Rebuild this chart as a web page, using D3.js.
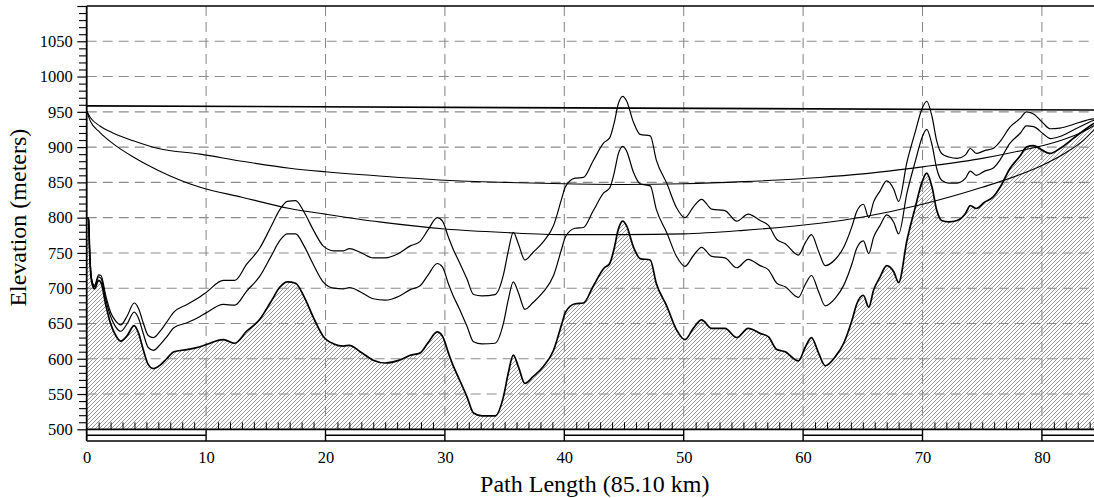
<!DOCTYPE html>
<html><head><meta charset="utf-8">
<script src="https://cdn.jsdelivr.net/npm/d3@7"></script>
<style>html,body{margin:0;padding:0;background:#fff;} svg{display:block;}
svg text{font-family:'Liberation Serif','Times New Roman',serif;}</style>
</head><body><svg id="chart" width="1094" height="498"></svg>
<script>
// ---- data ----
const distanceKm = [0,0.15,0.25,0.35,0.5,0.65,1.0,1.2,1.6,2.0,
 2.4,2.85,3.4,3.97,4.35,4.75,5.15,5.6,6.15,6.7,
 7.3,8.4,9.5,10.0,11.45,12.4,13.4,14.5,15.4,16.2,
 16.8,17.5,18.2,19.0,19.8,20.7,21.5,22.0,22.9,24.0,
 25.0,26.2,27.1,27.9,28.6,29.35,29.8,30.3,30.7,31.15,
 31.85,32.4,33.1,34.2,34.9,35.3,35.73,36.15,36.7,37.4,
 38.25,39.1,39.8,40.1,40.9,41.6,42.4,43.3,43.8,44.2,
 44.5,44.9,45.2,45.8,46.35,47.2,47.7,48.6,49.4,50.1,
 50.8,51.5,52.35,53.45,54.45,55.4,56.4,57.1,57.8,58.5,
 59.6,60.2,60.7,61.3,61.85,62.7,63.4,64.1,64.5,65.05,
 65.5,65.9,66.45,67.0,67.6,68.0,68.7,69.4,69.95,70.35,
 70.8,71.2,71.6,72.2,72.9,73.6,74.0,74.5,75.2,75.9,
 76.5,77.3,78.2,78.7,79.3,80.1,80.7,81.5,82.6,83.7,
 84.4,85.1];
const terrainElev = [800,798,750,718,703,699,711,708,676,650,
 634,625,633,647,636,612,592,586,591,600,
 610,613,617,620,627,622,639,656,680,702,
 709,707,688,658,632,621,618,619,610,598,
 594,598,605,608,623,638,632,608,590,573,
 546,523,519,519,546,579,605,589,565,575,
 589,612,650,666,678,679,702,728,735,758,
 782,795,789,758,742,740,707,674,641,627,
 643,655,643,643,630,643,636,631,613,610,
 597,617,630,608,590,603,622,655,678,690,
 673,697,716,732,723,708,768,815,850,863,
 843,810,796,794,796,806,817,813,822,829,
 843,869,888,900,902,895,891,898,912,926,
 934,938];
const profileMidElev = [800,799,751,720,706,702,716,714,684,660,
 646,639,650,666,657,635,616,612,620,631,
 644,651,660,665,677,676,696,717,744,768,
 777,777,760,733,709,700,699,701,695,685,
 683,689,698,703,719,735,730,706,689,673,
 646,624,621,622,650,683,709,694,670,680,
 695,718,757,773,785,786,809,835,842,865,
 889,901,895,864,848,845,812,778,745,731,
 746,758,745,743,729,741,732,726,707,702,
 687,706,718,695,675,686,704,735,757,767,
 749,772,789,804,793,777,835,880,913,925,
 903,869,853,849,849,856,866,860,866,870,
 882,905,920,930,929,919,912,915,924,933,
 938,938];
const profileTopElev = [800,799,752,721,707,704,719,718,689,666,
 654,648,661,679,671,650,633,630,639,652,
 666,677,688,694,711,711,734,757,786,812,
 823,824,808,782,760,753,753,756,751,743,
 743,750,760,766,783,800,795,772,755,739,
 713,691,689,691,719,752,779,763,740,751,
 766,789,828,844,856,857,880,906,913,936,
 960,972,966,935,918,916,882,848,814,800,
 815,826,812,810,795,805,796,789,769,763,
 747,765,776,752,732,741,758,788,809,819,
 800,822,838,852,840,823,879,922,954,965,
 943,908,891,886,884,889,898,891,895,898,
 908,928,941,950,947,934,926,927,932,938,
 940,938];
const upperArcKm   = [0,0.3,1.1,2.2,3.9,6,9.5,13,17,20,24.5,30,35,40,45,50,55,61.4,65,70,75,78.5,80.5,82.5,83.8,84.6,85.1];
const upperArcElev = [951,942,930,920,909,898,890,880,870,865,859,853,850,848,847,848,851,857,862,872,884,896,904,915,925,933,938];
const lowerArcKm   = [0,0.3,1.1,2.2,3.9,6,9.5,13,17,20,24.5,30,35,40,45,50,55,61.4,65,70,75,78,80,82,83.5,84.5,85.1];
const lowerArcElev = [951,937,921,905,886,867,843,829,813,805,794,784,779,776,776,777,782,792,801,819,843,860,874,892,910,927,938];
const losKm   = [0, 85.1];
const losElev = [958.5, 952.5];
const xTickValues = [0,10,20,30,40,50,60,70,80];
const yTickValues = [500,550,600,650,700,750,800,850,900,950,1000,1050];
const xTitle = "Path Length (85.10 km)";
const yTitle = "Elevation (meters)";

// ---- drawing ----
const W = 1094, H = 498;
const svg = d3.select("#chart");
const pLeft = 86.7, pTop = 6, pBottom = 429.3, stripBottom = 441;
const x = d3.scaleLinear().domain([0, 85.1]).range([pLeft, 1102.8]);
const y = d3.scaleLinear().domain([500, 1100]).range([pBottom, pTop]);
const FONT = "'Liberation Serif','Times New Roman',serif";

const defs = svg.append("defs");
const pat = defs.append("pattern").attr("id","hatch").attr("patternUnits","userSpaceOnUse")
  .attr("width",4).attr("height",4);
pat.append("path").attr("d","M-1,1 L1,-1 M0,4 L4,0 M3,5 L5,3")
  .attr("stroke","#808080").attr("stroke-width",0.8).attr("fill","none");
defs.append("clipPath").attr("id","plotclip").append("rect")
  .attr("x",pLeft).attr("y",pTop).attr("width",W-pLeft).attr("height",pBottom-pTop);

const pts = (xs, ys) => xs.map((d,i)=>[d, ys[i]]);
const terrainPts = pts(distanceKm, terrainElev);

const plot = svg.append("g").attr("clip-path","url(#plotclip)");

// hatched terrain
plot.append("path").datum(terrainPts)
  .attr("d", d3.area().x(d=>x(d[0])).y0(y(500)).y1(d=>y(d[1])).curve(d3.curveMonotoneX))
  .attr("fill","url(#hatch)");

// grid
const grid = plot.append("g").attr("stroke","#8c8c8c").attr("stroke-width",1.1).attr("stroke-dasharray","10,6");
grid.selectAll("line.h").data(yTickValues.filter(v=>v>500)).join("line")
  .attr("x1",pLeft).attr("x2",W).attr("y1",d=>y(d)).attr("y2",d=>y(d));
grid.selectAll("line.v").data(xTickValues.filter(v=>v>0)).join("line")
  .attr("x1",d=>x(d)).attr("x2",d=>x(d)).attr("y1",pTop).attr("y2",pBottom);

const line = d3.line().x(d=>x(d[0])).y(d=>y(d[1])).curve(d3.curveMonotoneX);
plot.append("path").datum(pts(upperArcKm, upperArcElev)).attr("d",line)
  .attr("fill","none").attr("stroke","#000").attr("stroke-width",1.1);
plot.append("path").datum(pts(lowerArcKm, lowerArcElev)).attr("d",line)
  .attr("fill","none").attr("stroke","#000").attr("stroke-width",1.1);
plot.append("path").datum(pts(distanceKm, profileTopElev)).attr("d",line)
  .attr("fill","none").attr("stroke","#000").attr("stroke-width",1.2);
plot.append("path").datum(pts(distanceKm, profileMidElev)).attr("d",line)
  .attr("fill","none").attr("stroke","#000").attr("stroke-width",1.2);
plot.append("path").datum(terrainPts).attr("d",line)
  .attr("fill","none").attr("stroke","#000").attr("stroke-width",1.7);
plot.append("path").datum(pts(losKm, losElev)).attr("d",d3.line().x(d=>x(d[0])).y(d=>y(d[1])))
  .attr("fill","none").attr("stroke","#000").attr("stroke-width",1.6);

// bottom minor ticks (inside, upward)
const minorX = d3.range(1, 86).filter(d=>d%10!==0);
const bAx = svg.append("g").attr("transform",`translate(0,${pBottom})`)
  .call(d3.axisTop(x).tickValues(minorX).tickSize(7).tickFormat(""));
bAx.select(".domain").remove();
bAx.selectAll("line").attr("stroke","#000").attr("stroke-width",1);

// bottom scale strip
const strip = svg.append("g").attr("stroke","#000").attr("fill","none");
strip.append("line").attr("x1",pLeft).attr("x2",W).attr("y1",pBottom).attr("y2",pBottom).attr("stroke-width",1.8);
strip.append("line").attr("x1",pLeft).attr("x2",W).attr("y1",stripBottom).attr("y2",stripBottom).attr("stroke-width",1.5);
strip.selectAll("line.mid").data(xTickValues.filter(v=>v%20===0)).join("line")
  .attr("x1",d=>x(d)).attr("x2",d=>x(Math.min(d+10,85.1))).attr("y1",435.2).attr("y2",435.2).attr("stroke-width",1.4);
strip.selectAll("line.div").data(xTickValues.filter(v=>v>0)).join("line")
  .attr("x1",d=>x(d)).attr("x2",d=>x(d)).attr("y1",pBottom).attr("y2",stripBottom).attr("stroke-width",1.4);

// x labels
const xAx = svg.append("g").attr("transform",`translate(0,${stripBottom})`)
  .call(d3.axisBottom(x).tickValues(xTickValues).tickSize(0).tickPadding(10.5).tickFormat(d3.format("d")));
xAx.attr("font-family", FONT).attr("font-size", 16.5);
xAx.select(".domain").remove();
xAx.selectAll("text").style("font-family",FONT).style("font-size","16.5px").attr("fill","#000");

// y axis: minor and major ticks
const yMinor = d3.range(510, 1100, 10).filter(v=>v%50!==0);
const yAxMinor = svg.append("g").attr("transform",`translate(${pLeft},0)`)
  .call(d3.axisLeft(y).tickValues(yMinor).tickSize(7.7).tickFormat(""));
yAxMinor.select(".domain").remove();
yAxMinor.selectAll("line").attr("stroke","#000").attr("stroke-width",1.1);
const yAx = svg.append("g").attr("transform",`translate(${pLeft},0)`)
  .call(d3.axisLeft(y).tickValues(yTickValues.concat([1100])).tickSize(9.4).tickPadding(4.6)
  .tickFormat(d => d === 1100 ? "" : d));
yAx.attr("font-family", FONT).attr("font-size", 16.5);
yAx.select(".domain").remove();
yAx.selectAll("line").attr("stroke","#000").attr("stroke-width",1.2);
yAx.selectAll("text").style("font-family",FONT).style("font-size","16.5px").attr("fill","#000");

// frame
svg.append("line").attr("x1",pLeft).attr("x2",pLeft).attr("y1",pTop).attr("y2",stripBottom)
  .attr("stroke","#000").attr("stroke-width",1.8);
svg.append("line").attr("x1",pLeft).attr("x2",W).attr("y1",pTop).attr("y2",pTop)
  .attr("stroke","#000").attr("stroke-width",1.5);

// titles
svg.append("text").attr("x", (x(0)+x(85.1))/2).attr("y", 492)
  .attr("text-anchor","middle").style("font-family",FONT).style("font-size","24px").text(xTitle);
svg.append("text").attr("transform",`translate(26,${(pTop+pBottom)/2}) rotate(-90)`)
  .attr("text-anchor","middle").style("font-family",FONT).style("font-size","24px").text(yTitle);
</script>
</body></html>
